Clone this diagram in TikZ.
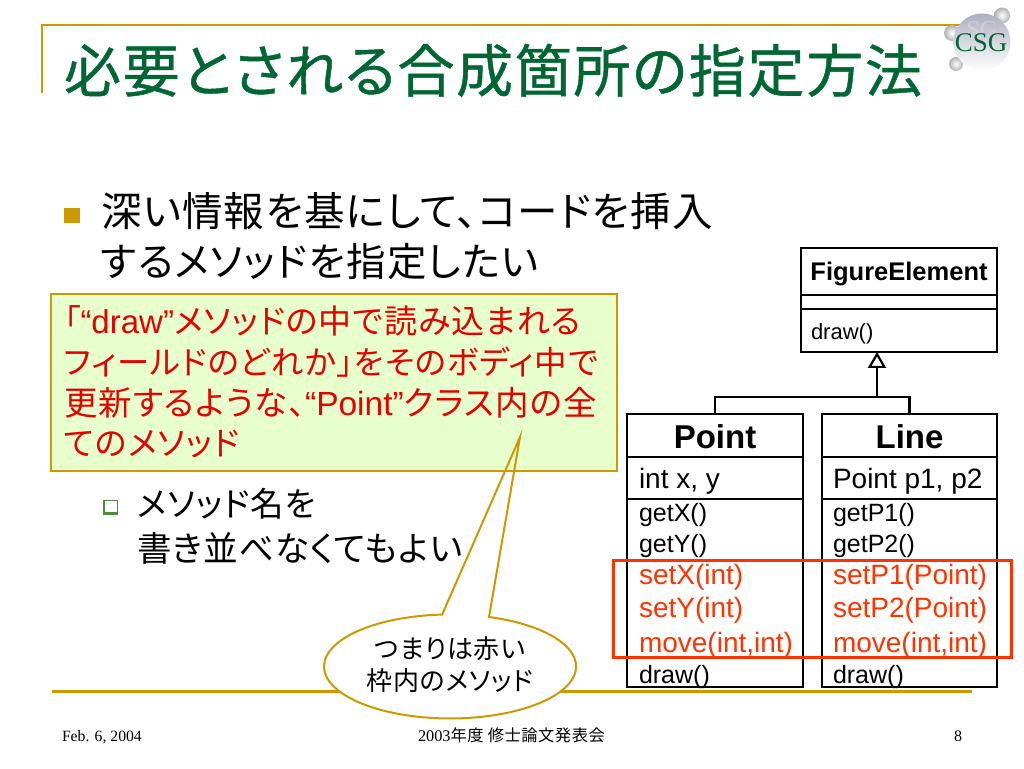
\documentclass[tikz,border=0pt]{standalone}
\usepackage{fontspec}
\setmainfont[RawFeature=+palt, LetterSpace=3]{Noto Sans CJK JP}
\newfontfamily\titlefont[RawFeature=+palt, LetterSpace=3, FakeBold=0.8]{Noto Sans CJK JP}
\newfontfamily\latfont{Liberation Sans}
\newfontfamily\serfont{Liberation Serif}
\usetikzlibrary{arrows.meta}

\definecolor{gold}{HTML}{CC9900}
\definecolor{titlegreen}{HTML}{006633}
\definecolor{notegreen}{HTML}{E6FFCC}
\definecolor{notered}{HTML}{E60000}
\definecolor{framered}{HTML}{FF3300}
\definecolor{bulletgreen}{HTML}{4C8C3C}
\newcommand{\lat}[1]{{\latfont #1}}
\newcommand{\fsize}[1]{\fontsize{#1}{#1}\selectfont}
\newcommand{\bubblepath}{(520,331) -- (489,151) arc[start angle=72, end angle=-266.4, x radius=126, y radius=52] -- cycle}

\tikzset{
	textline/.style={anchor=base west, inner sep=0pt, outer sep=0pt},
	umlbox/.style={draw=black, line width=2.2pt, minimum width=#1, inner sep=0pt, outer sep=0pt},
	umlline/.style={draw=black, line width=2.2pt},
	classname/.style={font=\latfont\bfseries\fsize{33}, text height=26pt, text depth=0pt},
	method/.style={textline, font=\latfont\fsize{25}},
	redmethod/.style={textline, font=\latfont\fsize{28}, text=framered},
	minorball/.style={inner color=white, outer color=gray!60},
}

\begin{document}
\begin{tikzpicture}[x=1pt, y=1pt]
\useasboundingbox (0,0) rectangle (1024,768);

%% Rahmen
\draw[gold, line width=2.2pt] (42,675) -- (42,743) -- (965,743);
\draw[gold, line width=3pt] (52,77) -- (972,77);

%% Logo
\shade[minorball] (1002,752.5) circle (8);
\shade[minorball] (952,735) circle (8);
\shade[minorball] (956,704) circle (7);
\shade[top color=blue!15!gray!55, bottom color=white] (982,726) circle (28.5);
\node[text=gray!35, font=\serfont\fsize{24}] (logoshadow) at (982,738) {SG};
\node[text=titlegreen, font=\serfont\fsize{27}] (logotext) at (981,725) {CSG};

%% Titel
\node[textline, text=titlegreen, font=\titlefont\fsize{57}] (title) at (64,676) {必要とされる合成箇所の指定方法};

%% Text
\fill[gold] (64,545) rectangle (80,560);
\node[textline, font=\fsize{40.5}] (bodyone) at (101,541) {深い情報を基にして、コードを挿入};
\node[textline, font=\fsize{39.5}] (bodytwo) at (101,491) {するメソッドを指定したい};
\fill[bulletgreen] (103,253) rectangle (118,268);
\fill[white] (105,256) rectangle (117,267);
\node[textline, font=\fsize{33.5}] (subone) at (137,251) {メソッド名を};
\node[textline, font=\fsize{34.5}] (subtwo) at (137,206) {書き並べなくてもよい};

%% Sprechblase (Flaeche)
\fill[white] \bubblepath;

%% Notiz
\draw[gold, line width=1.5pt, fill=notegreen] (51,297) rectangle (617,474);
\node[textline, text=notered, font=\fsize{33}] (noteone) at (64,434) {「\lat{“draw”}メソッドの中で読み込まれる};
\node[textline, text=notered, font=\fsize{32.4}] (notetwo) at (64,393) {フィールドのどれか」をそのボディ中で};
\node[textline, text=notered, font=\fsize{33.5}] (notethree) at (64,352) {更新するような、\lat{“Point”}クラス内の全};
\node[textline, text=notered, font=\fsize{33}] (notefour) at (64,312) {てのメソッド};

%% Sprechblase
\draw[gold, line width=2pt] \bubblepath;
\node[font=\fsize{26}, align=center, inner sep=0pt] (bubble) at (450,103) {つまりは赤い\\[6pt]枠内のメソッド};

%% FigureElement
\node[umlbox=196pt, minimum height=47pt, font=\latfont\bfseries\fsize{25.5}, text height=24pt, text depth=5pt] (figurehead) at (899,496.5) {FigureElement};
\node[umlbox=196pt, minimum height=14pt] (figureattr) at (899,466) {};
\node[umlbox=196pt, minimum height=43pt] (figureops) at (899,437.5) {};
\node[textline, font=\latfont\fsize{22}] (figuredraw) at (811,428) {draw()};

%% Point
\node[umlbox=176pt, minimum height=43pt, classname] (pointhead) at (715,332.5) {Point};
\node[umlbox=176pt, minimum height=42pt] (pointattr) at (715,290) {};
\node[umlbox=176pt, minimum height=188pt] (pointops) at (715,175) {};
\node[textline, font=\latfont\fsize{28}] (pointfields) at (639,279) {int x, y};
\node[method] (getx) at (639,246) {getX()};
\node[method] (gety) at (639,215) {getY()};
\node[redmethod] (setx) at (639,183) {setX(int)};
\node[redmethod] (sety) at (639,150) {setY(int)};
\node[redmethod] (movep) at (639,116) {move(int,int)};
\node[method] (drawp) at (639,85) {draw()};

%% Line
\node[umlbox=175pt, minimum height=43pt, classname] (linehead) at (909.5,332.5) {Line};
\node[umlbox=175pt, minimum height=42pt] (lineattr) at (909.5,290) {};
\node[umlbox=175pt, minimum height=188pt] (lineops) at (909.5,175) {};
\node[textline, font=\latfont\fsize{28}] (linefields) at (833,279) {Point p1, p2};
\node[method] (getpone) at (833,246) {getP1()};
\node[method] (getptwo) at (833,215) {getP2()};
\node[redmethod] (setpone) at (833,183) {setP1(Point)};
\node[redmethod] (setptwo) at (833,150) {setP2(Point)};
\node[redmethod] (movel) at (833,116) {move(int,int)};
\node[method] (drawl) at (833,85) {draw()};

%% Vererbung
\coordinate (branch) at (877,371);
\coordinate (tip) at (877,416);
\draw[umlline] (pointhead.north) |- (branch) -| (linehead.north);
\draw[umlline, -{Triangle[open, fill=white, length=16pt, width=18pt]}] (branch) -- (tip);

%% Auswahl
\draw[framered, line width=3pt] (613,111) rectangle (1011,207);

%% Fusszeile
\node[textline, font=\serfont\fsize{15.7}] (footdate) at (62,27) {Feb. 6, 2004};
\node[textline, font=\fsize{16.3}] (footname) at (418,27) {{\serfont 2003}年度 修士論文発表会};
\node[textline, font=\serfont\fsize{16}] (footpage) at (954,27) {8};

\end{tikzpicture}
\end{document}
